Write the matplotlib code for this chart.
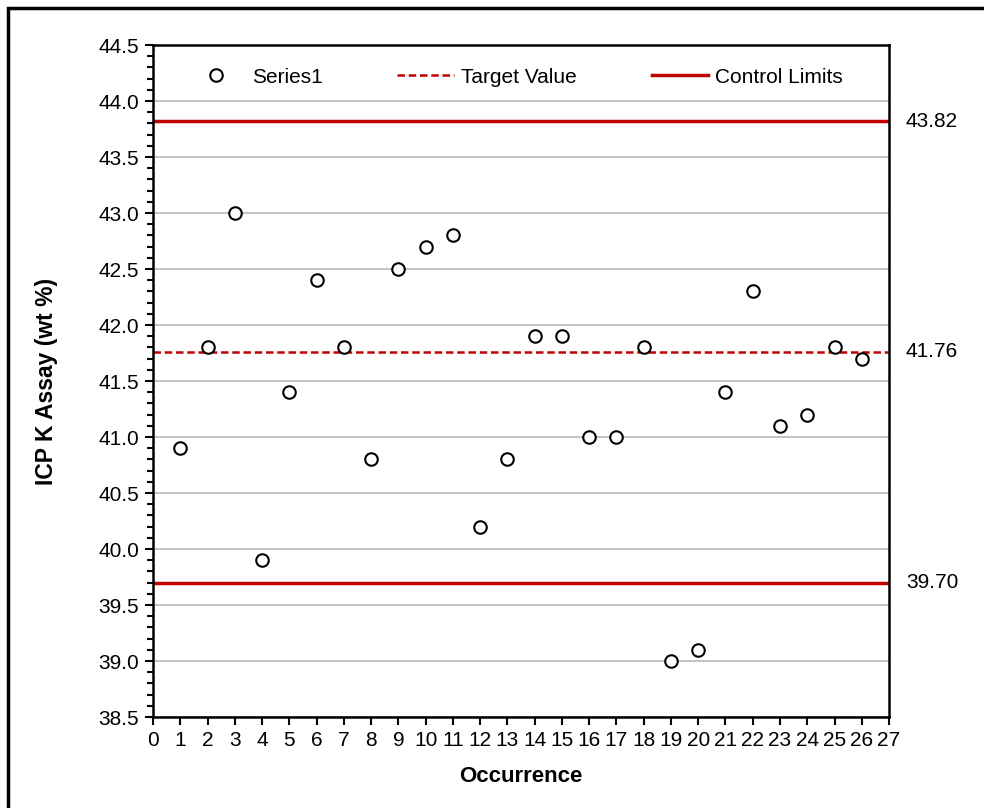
import numpy as np
import matplotlib
matplotlib.use("Agg")
import matplotlib.pyplot as plt
from matplotlib.ticker import MultipleLocator, FormatStrFormatter
from matplotlib.patches import Rectangle
import matplotlib.transforms as mtransforms

plt.rcParams['font.family'] = ['Liberation Sans', 'DejaVu Sans']

# data
occurrence = list(range(1, 27))
assay = [40.9, 41.8, 43.0, 39.9, 41.4, 42.4, 41.8, 40.8, 42.5, 42.7,
         42.8, 40.2, 40.8, 41.9, 41.9, 41.0, 41.0, 41.8, 39.0, 39.1,
         41.4, 42.3, 41.1, 41.2, 41.8, 41.7]
target = 41.76
ucl = 43.82
lcl = 39.70

red = '#C00000'

fig = plt.figure(figsize=(9.84, 8.08), dpi=100)
ax = fig.add_axes([0.1555, 0.1126, 0.7480, 0.8317])

# outer border of the chart area
fig.patches.append(Rectangle((8 / 984, -0.05), 1.2, 1 - 8 / 808 + 0.05, transform=fig.transFigure,
                             fill=False, edgecolor='black', linewidth=2.5))

ax.set_xlim(0, 27)
ax.set_ylim(38.5, 44.5)
ax.yaxis.set_major_locator(MultipleLocator(0.5))
ax.yaxis.set_minor_locator(MultipleLocator(0.1))
ax.xaxis.set_major_locator(MultipleLocator(1))
ax.yaxis.set_major_formatter(FormatStrFormatter('%.1f'))
ax.grid(axis='y', which='major', color='#B8B8B8', linewidth=1.2)
ax.set_axisbelow(True)

ax.plot(occurrence, assay, 'o', markersize=9, markerfacecolor='white',
        markeredgecolor='black', markeredgewidth=1.5, label='Series1', zorder=5)
ax.axhline(target, color=red, linestyle=(0, (3, 1.5)), linewidth=1.8, label='Target Value')
ax.axhline(ucl, color=red, linewidth=2.5, label='Control Limits')
ax.axhline(lcl, color=red, linewidth=2.5)

trans = mtransforms.blended_transform_factory(ax.transAxes, ax.transData)
for v in [ucl, target, lcl]:
    ax.text(1.023, v, f'{v:.2f}', transform=trans, ha='left', va='center', fontsize=15)

for s in ax.spines.values():
    s.set_linewidth(1.8)
ax.tick_params(axis='both', which='major', direction='out', length=6, width=1.5,
               labelsize=15, pad=4)
ax.tick_params(axis='y', which='minor', direction='out', length=4, width=1.5)
ax.tick_params(axis='x', which='minor', length=0)

ax.set_xlabel('Occurrence', fontsize=16, fontweight='bold')
ax.set_ylabel('ICP K Assay (wt %)', fontsize=16.5, fontweight='bold')
ax.xaxis.set_label_coords(0.5, -0.073)
ax.yaxis.set_label_coords(-0.129, 0.5)

ax.legend(loc='center', ncol=3, frameon=False, fontsize=15,
          bbox_to_anchor=(0.4925, 0.952), columnspacing=3.6, handlelength=2.7,
          handletextpad=0.35)

fig.savefig('out.png', dpi=100)
